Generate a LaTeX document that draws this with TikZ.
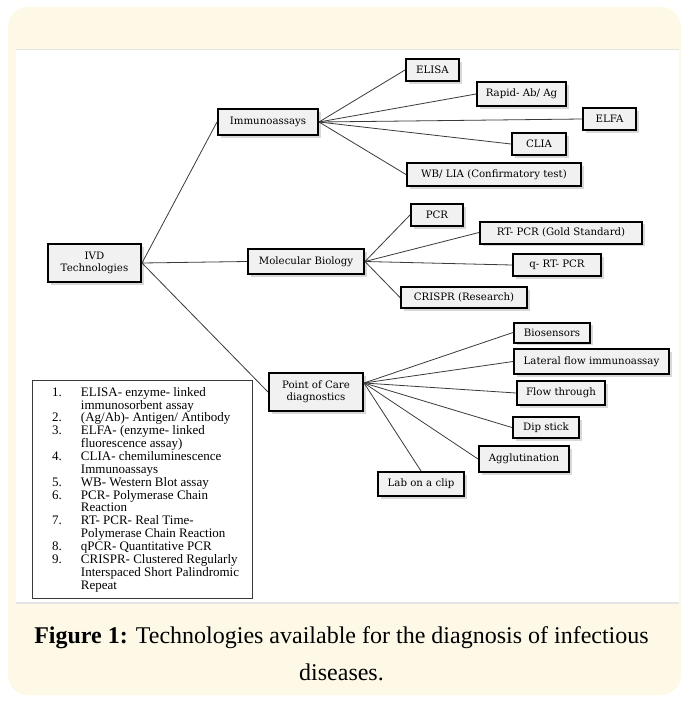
\documentclass[tikz,border=0pt]{standalone}
\usepackage{fontspec}
\setmainfont{DejaVu Serif}
\newfontfamily\listfont{Liberation Serif}
\usetikzlibrary{positioning,shadows}

\definecolor{panelcream}{HTML}{FEF9E7}
\definecolor{boxgray}{HTML}{F1F1F1}
\definecolor{linkgray}{HTML}{3A3A3A}
\definecolor{rulegray}{HTML}{E4E4E4}

\begin{document}
\begin{tikzpicture}[x=1pt, y=-1pt]
  \tikzstyle{tech}=[draw=black, line width=2pt, fill=boxgray, inner sep=0pt, align=center, font=\fontsize{10.2}{12.5}\selectfont, drop shadow={shadow xshift=2.5pt, shadow yshift=-2.5pt, opacity=0.3}]
  \tikzstyle{link}=[draw=linkgray, line width=0.8pt]
  \useasboundingbox (0,0) rectangle (683,702);

  % background card and white panel
  \fill[panelcream, rounded corners=20pt] (8,7) rectangle (681,695);
  \fill[white] (16,49) rectangle (679,603);
  \draw[rulegray, line width=1pt] (16,49) -- (679,49);
  \draw[rulegray, line width=1.5pt] (16,603) -- (679,603);

  % main branches
  \node [tech, minimum width=93, minimum height=38] at (94.5,263)   (ivd)    {IVD\\Technologies};
  \node [tech, minimum width=100, minimum height=26] at (268,122)   (immuno) {Immunoassays};
  \node [tech, minimum width=116, minimum height=25] at (306,261.5) (molbio) {Molecular Biology};
  \node [tech, minimum width=94, minimum height=38] at (316,392)    (poc)    {Point of Care\\diagnostics};

  % immunoassays
  \node [tech, minimum width=53, minimum height=22] at (432.5,70)   (elisa)  {ELISA};
  \node [tech, minimum width=89, minimum height=24] at (521.5,94)   (rapid)  {Rapid- Ab/ Ag};
  \node [tech, minimum width=53, minimum height=22] at (609.5,119)  (elfa)   {ELFA};
  \node [tech, minimum width=54, minimum height=22] at (539,144)    (clia)   {CLIA};
  \node [tech, minimum width=174, minimum height=23] at (494,174.5) (wb)     {WB/ LIA (Confirmatory test)};

  % molecular biology
  \node [tech, minimum width=52, minimum height=22] at (437,215)    (pcr)    {PCR};
  \node [tech, minimum width=162, minimum height=22] at (561,232.5) (rtpcr)  {RT- PCR (Gold Standard)};
  \node [tech, minimum width=88, minimum height=22] at (557,265)    (qrtpcr) {q- RT- PCR};
  \node [tech, minimum width=126, minimum height=21] at (464,297.5) (crispr) {CRISPR (Research)};

  % point of care
  \node [tech, minimum width=76, minimum height=20] at (552,332.5)  (bio)     {Biosensors};
  \node [tech, minimum width=155, minimum height=25] at (591.5,361.5) (lateral) {Lateral flow immunoassay};
  \node [tech, minimum width=88, minimum height=24] at (561,393)    (flow)    {Flow through};
  \node [tech, minimum width=66, minimum height=21] at (546,427.5)  (dip)     {Dip stick};
  \node [tech, minimum width=90, minimum height=26] at (524,459)    (agglu)   {Agglutination};
  \node [tech, minimum width=86, minimum height=24] at (421,484)    (lab)     {Lab on a clip};

  \coordinate (pocout) at (364,383);

  \path[link] (ivd.east) edge (immuno.west)
                         edge (molbio.west)
                         edge (poc.west);
  \path[link] (immuno.east) edge (elisa.west)
                            edge (rapid.west)
                            edge (elfa.west)
                            edge (clia.west)
                            edge (wb.west);
  \path[link] (molbio.east) edge (pcr.west)
                            edge (rtpcr.west)
                            edge (qrtpcr.west)
                            edge (crispr.west);
  \path[link] (pocout) edge (bio.west)
                       edge (lateral.west)
                       edge (flow.west)
                       edge (dip.west)
                       edge (agglu.west)
                       edge (lab.north);

  % abbreviations
  \node [draw=linkgray, line width=0.8pt, minimum width=220, minimum height=218, anchor=north west] at (32,380) (legend) {};
  \node [anchor=north west, inner sep=0pt, align=left, font=\listfont\fontsize{13}{12.8}\selectfont] at (52,387) (legendtext) {%
    \begin{tabular}{@{}l@{\hspace{19pt}}l@{}}
      1. & ELISA- enzyme- linked\\
         & immunosorbent assay\\
      2. & (Ag/Ab)- Antigen/ Antibody\\
      3. & ELFA- (enzyme- linked\\
         & fluorescence assay)\\
      4. & CLIA- chemiluminescence\\
         & Immunoassays\\
      5. & WB- Western Blot assay\\
      6. & PCR- Polymerase Chain\\
         & Reaction\\
      7. & RT- PCR- Real Time-\\
         & Polymerase Chain Reaction\\
      8. & qPCR- Quantitative PCR\\
      9. & CRISPR- Clustered Regularly\\
         & Interspaced Short Palindromic\\
         & Repeat
    \end{tabular}};

  % caption
  \node [anchor=base, font=\listfont\fontsize{24}{28}\selectfont] at (341.5,643) (caption) {\textbf{Figure 1:} Technologies available for the diagnosis of infectious};
  \node [anchor=base, font=\listfont\fontsize{24}{28}\selectfont] at (341.5,680) (captiontail) {diseases.};
\end{tikzpicture}
\end{document}
